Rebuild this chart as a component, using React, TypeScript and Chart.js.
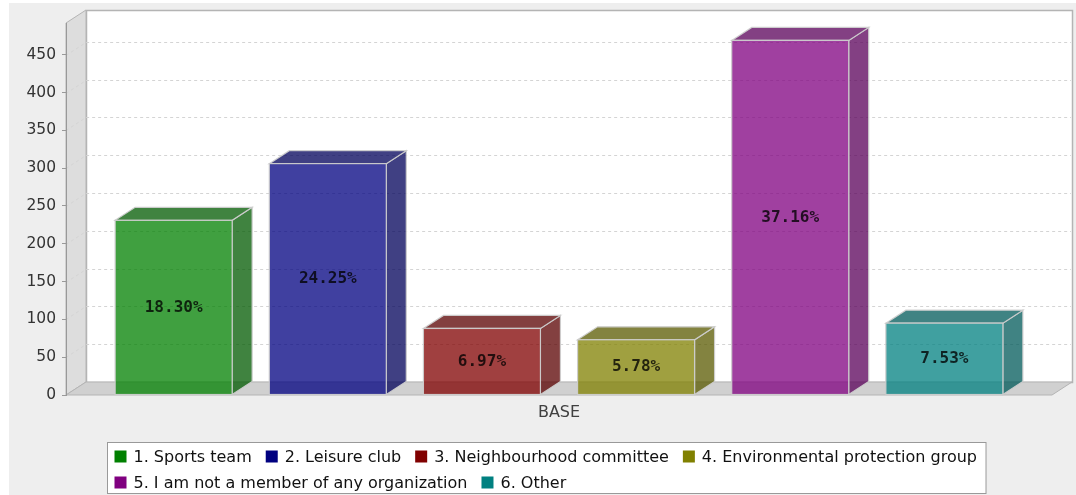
import React, { useEffect, useRef } from "react";
import { Chart, registerables } from "chart.js";

Chart.register(...registerables);

// ---- data ----
const categories = ["BASE"];
const seriesLabels = [
  "1. Sports team",
  "2. Leisure club",
  "3. Neighbourhood committee",
  "4. Environmental protection group",
  "5. I am not a member of any organization",
  "6. Other",
];
const seriesValues = [231, 306, 88, 73, 469, 95];
const seriesPercents = ["18.30%", "24.25%", "6.97%", "5.78%", "37.16%", "7.53%"];
const seriesColors = [
  [0, 128, 0],
  [0, 0, 128],
  [128, 0, 0],
  [128, 128, 0],
  [128, 0, 128],
  [0, 128, 128],
];
const yTickValues = [0, 50, 100, 150, 200, 250, 300, 350, 400, 450];
const Y_MAX = 492;

// ---- style ----
const DX = 20;
const DY = -13;
const ALPHA = 0.75;
const SANS = "'DejaVu Sans', sans-serif";
const MONO = "'DejaVu Sans Mono', monospace";

const rgba = (c: number[], a: number, f = 1) =>
  `rgba(${Math.round(c[0] * f)},${Math.round(c[1] * f)},${Math.round(c[2] * f)},${a})`;

const threeD = {
  id: "threeD",
  beforeDraw(chart: any) {
    const ctx = chart.ctx;
    const { left, right, top, bottom } = chart.chartArea;
    ctx.save();
    ctx.fillStyle = "#EEEEEE";
    ctx.fillRect(0, 0, chart.width, chart.height);

    // back wall
    ctx.fillStyle = "#FFFFFF";
    ctx.fillRect(left + DX, top + DY, right - left, bottom - top);
    ctx.strokeStyle = "#B4B4B4";
    ctx.lineWidth = 1.5;
    ctx.strokeRect(left + DX + 0.5, top + DY + 0.5, right - left, bottom - top);

    // left wall
    ctx.beginPath();
    ctx.moveTo(left, bottom);
    ctx.lineTo(left, top);
    ctx.lineTo(left + DX, top + DY);
    ctx.lineTo(left + DX, bottom + DY);
    ctx.closePath();
    ctx.fillStyle = "#DDDDDD";
    ctx.fill();
    ctx.strokeStyle = "#B4B4B4";
    ctx.lineWidth = 1;
    ctx.stroke();

    // floor
    ctx.beginPath();
    ctx.moveTo(left, bottom);
    ctx.lineTo(left + DX, bottom + DY);
    ctx.lineTo(right + DX, bottom + DY);
    ctx.lineTo(right, bottom);
    ctx.closePath();
    ctx.fillStyle = "#D0D0D0";
    ctx.fill();
    ctx.strokeStyle = "#B4B4B4";
    ctx.stroke();

    // gridlines on walls
    const ys = chart.scales.y;
    ctx.setLineDash([3, 3]);
    ctx.strokeStyle = "#D4D4D4";
    ctx.lineWidth = 1;
    for (const v of yTickValues) {
      if (v === 0) continue;
      const y = Math.round(ys.getPixelForValue(v)) + 0.5;
      ctx.beginPath();
      ctx.moveTo(left, y);
      ctx.lineTo(left + DX, y + DY);
      ctx.lineTo(right + DX - 1, y + DY);
      ctx.stroke();
    }
    ctx.setLineDash([]);
    ctx.restore();
  },
  afterDatasetsDraw(chart: any) {
    const ctx = chart.ctx;
    ctx.save();
    chart.data.datasets.forEach((ds: any, i: number) => {
      const meta = chart.getDatasetMeta(i);
      meta.data.forEach((el: any) => {
        const { x, y, base, width } = el.getProps(["x", "y", "base", "width"], true);
        const L = x - width / 2;
        const R = x + width / 2;
        const c = seriesColors[i];
        ctx.strokeStyle = "rgba(205,205,205,0.95)";
        ctx.lineWidth = 1.2;
        // side
        ctx.beginPath();
        ctx.moveTo(R, y);
        ctx.lineTo(R + DX, y + DY);
        ctx.lineTo(R + DX, base + DY);
        ctx.lineTo(R, base);
        ctx.closePath();
        ctx.fillStyle = rgba(c, ALPHA, 0.7);
        ctx.fill();
        ctx.stroke();
        // top
        ctx.beginPath();
        ctx.moveTo(L, y);
        ctx.lineTo(L + DX, y + DY);
        ctx.lineTo(R + DX, y + DY);
        ctx.lineTo(R, y);
        ctx.closePath();
        ctx.fillStyle = rgba(c, ALPHA, 0.7);
        ctx.fill();
        ctx.stroke();
        // front
        ctx.fillStyle = rgba(c, ALPHA);
        ctx.fillRect(L, y, width, base - y);
        ctx.strokeRect(L, y, width, base - y);
        // label
        ctx.font = `bold 16px ${MONO}`;
        ctx.fillStyle = "rgba(0,0,0,0.78)";
        ctx.textAlign = "center";
        ctx.textBaseline = "middle";
        ctx.fillText(seriesPercents[i], x, (y + base) / 2);
      });
    });
    ctx.restore();
  },
  afterDraw(chart: any) {
    const ctx = chart.ctx;
    ctx.save();
    ctx.font = `16px ${SANS}`;
    const SW = 12, GAP = 7, ITEM_GAP = 14, PAD = 7, ROW_H = 26, MAXW = 900;
    const items = seriesLabels.map((t, i) => ({ t, i, w: SW + GAP + ctx.measureText(t).width }));
    const rows: any[][] = [[]];
    let rw = 0;
    for (const it of items) {
      const cur = rows[rows.length - 1];
      const add = (cur.length ? ITEM_GAP : 0) + it.w;
      if (cur.length && rw + add > MAXW) {
        rows.push([it]);
        rw = it.w;
      } else {
        cur.push(it);
        rw += add;
      }
    }
    const rowWidths = rows.map((r) => r.reduce((s, it, k) => s + it.w + (k ? ITEM_GAP : 0), 0));
    const boxW = Math.max(...rowWidths) + PAD * 2 + 2;
    const boxX = Math.round((chart.width - boxW) / 2) + 4.5;
    const boxY = 439.5;
    const boxH = 51;
    ctx.fillStyle = "#FFFFFF";
    ctx.fillRect(boxX, boxY, boxW, boxH);
    ctx.strokeStyle = "#999999";
    ctx.lineWidth = 1;
    ctx.strokeRect(boxX, boxY, boxW, boxH);
    ctx.textAlign = "left";
    ctx.textBaseline = "middle";
    rows.forEach((r, ri) => {
      let x = boxX + PAD;
      const cy = boxY + 14 + ri * ROW_H;
      r.forEach((it) => {
        ctx.fillStyle = rgba(seriesColors[it.i], 1);
        ctx.fillRect(x, cy - 6, SW, SW);
        ctx.fillStyle = "#111111";
        ctx.fillText(it.t, x + SW + GAP, cy + 1);
        x += it.w + ITEM_GAP;
      });
    });
    ctx.restore();
  },
};

export default function App() {
  const ref = useRef<HTMLCanvasElement | null>(null);
  useEffect(() => {
    if (!ref.current) return;
    const chart = new Chart(ref.current, {
      type: "bar",
      data: {
        labels: categories,
        datasets: seriesLabels.map((label, i) => ({
          label,
          data: [seriesValues[i]],
          backgroundColor: "rgba(0,0,0,0)",
          borderWidth: 0,
          categoryPercentage: 0.938,
          barPercentage: 0.759,
        })),
      },
      options: {
        animation: false,
        responsive: true,
        maintainAspectRatio: false,
        layout: { padding: { top: 20, right: 24, left: 0, bottom: 0 } },
        plugins: { legend: { display: false }, tooltip: { enabled: false } },
        scales: {
          x: {
            type: "category",
            grid: { display: false, drawTicks: false },
            border: { display: false },
            ticks: { font: { family: SANS, size: 16 }, color: "#404040", padding: 8 },
            afterFit: (s: any) => {
              s.height = 100;
            },
          },
          y: {
            min: 0,
            max: Y_MAX,
            ticks: { stepSize: 50, font: { family: SANS, size: 15.5 }, color: "#333333", padding: 6 },
            grid: { drawOnChartArea: false, tickLength: 4, color: "#999999" },
            border: { color: "#999999" },
            afterBuildTicks: (s: any) => {
              s.ticks = yTickValues.map((v) => ({ value: v }));
            },
            afterFit: (s: any) => {
              s.width = 57;
            },
          },
        },
      },
      plugins: [threeD],
    } as any);
    return () => chart.destroy();
  }, []);
  return (
    <div style={{ position: "absolute", left: 9, top: 3, width: 1067, height: 492 }}>
      <canvas ref={ref} />
    </div>
  );
}
